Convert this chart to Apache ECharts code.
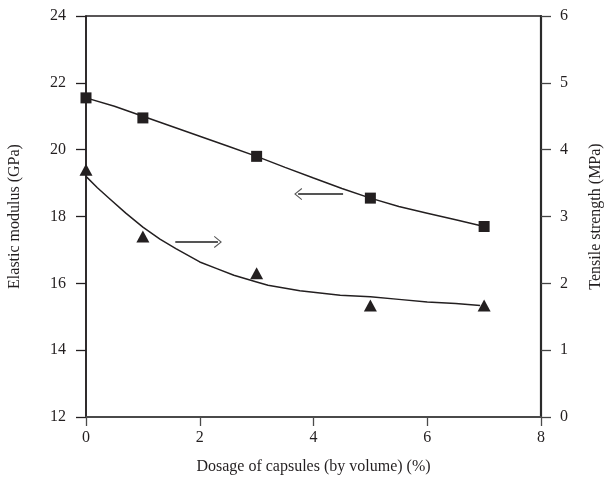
<!DOCTYPE html>
<html>
<head>
<meta charset="utf-8">
<script src="https://cdn.jsdelivr.net/npm/echarts@6/dist/echarts.min.js"></script>
<style>html,body{margin:0;padding:0;background:#fff}#c{width:614px;height:487px}</style>
</head>
<body>
<div id="c"></div>
<script>
// Measured points
const dosage = [0, 1, 3, 5, 7];
const elasticModulus = [21.55, 20.95, 19.8, 18.55, 17.7];      // GPa (left axis)
const tensileStrength = [3.7, 2.7, 2.15, 1.67, 1.67];          // MPa (right axis)

// Fitted curves
const modFitX = [0, 0.5, 1, 1.5, 2, 2.5, 3, 3.5, 4, 4.5, 5, 5.5, 6, 6.5, 7];
const modFitY = [21.55, 21.3, 21.0, 20.7, 20.4, 20.1, 19.8, 19.47, 19.15, 18.84, 18.55, 18.3, 18.1, 17.9, 17.7];
const tenFitX = [0, 0.2, 0.41, 0.7, 1.0, 1.3, 1.58, 2.0, 2.3, 2.6, 3.0, 3.2, 3.76, 4.47, 5.0, 5.5, 6.0, 6.5, 6.93];
const tenFitY = [3.6, 3.43, 3.27, 3.05, 2.84, 2.66, 2.52, 2.32, 2.22, 2.12, 2.02, 1.97, 1.89, 1.82, 1.8, 1.76, 1.72, 1.7, 1.67];

// Arrow annotations (data coordinates)
const leftArrow = {x0: 4.52, x1: 3.73, y: 18.67};
const rightArrow = {x0: 1.57, x1: 2.32, y: 2.62};

const xTicks = {min: 0, max: 8, interval: 2};
const leftTicks = {min: 12, max: 24, interval: 2};
const rightTicks = {min: 0, max: 6, interval: 1};

const ink = '#231f20';
const font = 'Liberation Serif';
const chevron = 'path://M10,0 L20,14 L18.4,15.2 L10,3.2 L1.6,15.2 L0,14 Z';

const zip = (a, b) => a.map((v, i) => [v, b[i]]);

const chart = echarts.init(document.getElementById('c'));
chart.setOption({
  backgroundColor: '#fff',
  animation: false,
  grid: {left: 86, right: 73, top: 16, bottom: 70, containLabel: false, outerBoundsMode: 'none',
         show: true, borderColor: ink, borderWidth: 1.4, backgroundColor: 'transparent'},
  xAxis: {
    type: 'value', min: xTicks.min, max: xTicks.max, interval: xTicks.interval,
    name: 'Dosage of capsules (by volume) (%)', nameLocation: 'middle', nameGap: 42,
    nameTextStyle: {fontFamily: font, fontSize: 16, color: ink},
    axisLine: {lineStyle: {color: '#4a4a4a', width: 1.8}},
    axisTick: {inside: false, length: 9, lineStyle: {color: '#4a4a4a', width: 1.3}},
    axisLabel: {fontFamily: font, fontSize: 16, color: ink, margin: 13},
    splitLine: {show: false}
  },
  yAxis: [{
    type: 'value', min: leftTicks.min, max: leftTicks.max, interval: leftTicks.interval,
    position: 'left',
    name: 'Elastic modulus (GPa)', nameLocation: 'middle', nameGap: 63, nameRotate: 90,
    nameTextStyle: {fontFamily: font, fontSize: 16, color: ink},
    axisLine: {show: true, lineStyle: {color: ink, width: 1.6}},
    axisTick: {show: true, inside: false, length: 10, lineStyle: {color: ink, width: 1.3}},
    axisLabel: {fontFamily: font, fontSize: 16, color: ink, margin: 20},
    splitLine: {show: false}
  }, {
    type: 'value', min: rightTicks.min, max: rightTicks.max, interval: rightTicks.interval,
    position: 'right',
    name: 'Tensile strength (MPa)', nameLocation: 'middle', nameGap: 47, nameRotate: 90,
    nameTextStyle: {fontFamily: font, fontSize: 16, color: ink},
    axisLine: {show: true, lineStyle: {color: '#2a2a2a', width: 2.2}},
    axisTick: {show: true, inside: false, length: 10, lineStyle: {color: '#444', width: 1.3}},
    axisLabel: {fontFamily: font, fontSize: 16, color: ink, margin: 19},
    splitLine: {show: false}
  }],
  series: [{
    type: 'line', yAxisIndex: 0, data: zip(modFitX, modFitY), smooth: false,
    showSymbol: false, symbol: 'none', lineStyle: {color: ink, width: 1.5}, z: 2,
    markLine: {
      silent: true, symbol: ['none', chevron], symbolSize: [12, 8],
      lineStyle: {color: '#555', width: 2, type: 'solid'}, label: {show: false},
      data: [[{coord: [leftArrow.x0, leftArrow.y]}, {coord: [leftArrow.x1, leftArrow.y]}]]
    }
  }, {
    type: 'line', yAxisIndex: 1, data: zip(tenFitX, tenFitY), smooth: false,
    showSymbol: false, symbol: 'none', lineStyle: {color: ink, width: 1.5}, z: 2,
    markLine: {
      silent: true, symbol: ['none', chevron], symbolSize: [12, 8],
      lineStyle: {color: '#555', width: 2, type: 'solid'}, label: {show: false},
      data: [[{coord: [rightArrow.x0, rightArrow.y]}, {coord: [rightArrow.x1, rightArrow.y]}]]
    }
  }, {
    type: 'scatter', yAxisIndex: 0, data: zip(dosage, elasticModulus),
    symbol: 'rect', symbolSize: 11, itemStyle: {color: ink, opacity: 1}, z: 5
  }, {
    type: 'scatter', yAxisIndex: 1, data: zip(dosage, tensileStrength),
    symbol: 'triangle', symbolSize: [13, 12], itemStyle: {color: ink, opacity: 1}, z: 5
  }]
});
</script>
</body>
</html>
